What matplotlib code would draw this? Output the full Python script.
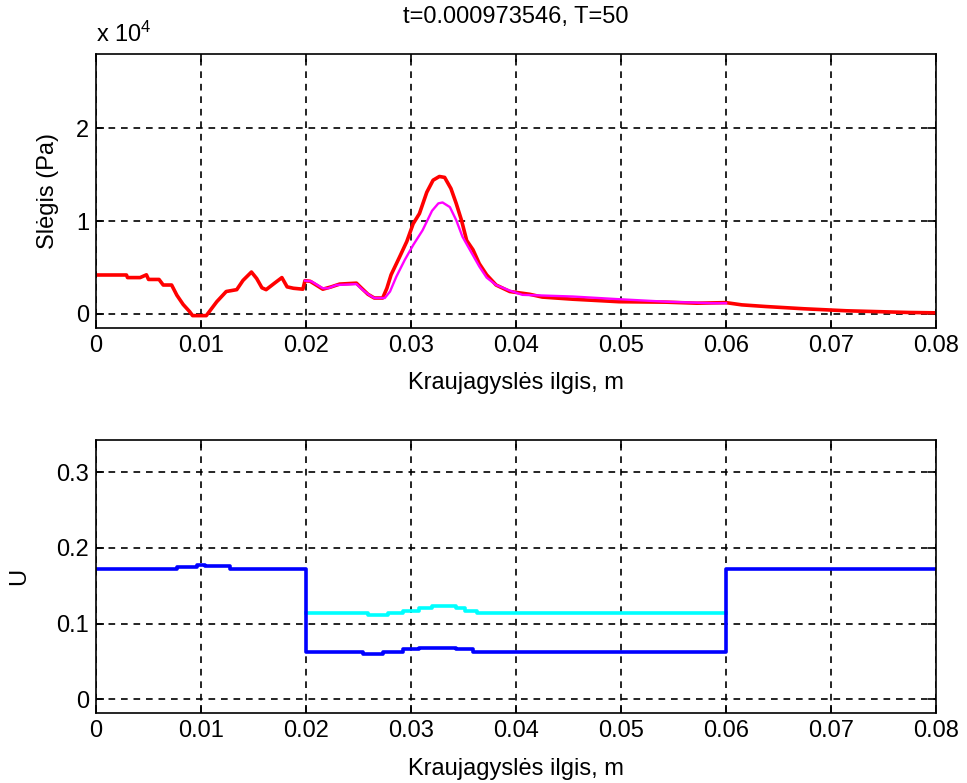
import matplotlib
matplotlib.use("Agg")
import matplotlib.pyplot as plt

plt.rcParams['font.family'] = ['Liberation Sans', 'DejaVu Sans']
plt.rcParams['mathtext.default'] = 'regular'
plt.rcParams['font.size'] = 17

# upper panel: pressure along the vessel, units of 1e4 Pa
red_x = [0, 0.0029, 0.003, 0.0042, 0.0048, 0.005, 0.006, 0.0064, 0.0072, 0.0077,
         0.0083, 0.0089, 0.0092, 0.0105, 0.0108, 0.0115, 0.0124, 0.0134, 0.014,
         0.0148, 0.0153, 0.0158, 0.0162, 0.017, 0.0177, 0.0182, 0.0188, 0.0197,
         0.0199, 0.0204, 0.0216, 0.0224, 0.0232, 0.0248, 0.0253, 0.0259, 0.0265,
         0.0273, 0.0277, 0.0281, 0.0289, 0.0296, 0.0302, 0.0308, 0.0315, 0.0321,
         0.0327, 0.0332, 0.0338, 0.0343, 0.0348, 0.0353, 0.0359, 0.0365, 0.0372,
         0.0381, 0.0394, 0.0413, 0.0425, 0.0454, 0.0498, 0.0543, 0.0572, 0.06,
         0.0615, 0.0638, 0.0674, 0.0715, 0.0774, 0.08]
red_y = [0.418, 0.418, 0.39, 0.39, 0.42, 0.37, 0.37, 0.31, 0.31, 0.20,
         0.10, 0.025, -0.02, -0.02, 0.025, 0.13, 0.24, 0.26, 0.36,
         0.45, 0.38, 0.28, 0.26, 0.33, 0.39, 0.29, 0.275, 0.265,
         0.357, 0.35, 0.265, 0.29, 0.32, 0.33, 0.275, 0.21, 0.17,
         0.17, 0.275, 0.42, 0.61, 0.78, 0.97, 1.08, 1.31, 1.44,
         1.48, 1.47, 1.35, 1.19, 1.01, 0.79, 0.69, 0.54, 0.42,
         0.31, 0.24, 0.21, 0.18, 0.157, 0.13, 0.125, 0.114, 0.12,
         0.096, 0.078, 0.054, 0.032, 0.014, 0.01]

mag_x = [0.0199, 0.0205, 0.0216, 0.0221, 0.0229, 0.0248, 0.0254, 0.026, 0.0265,
         0.0275, 0.028, 0.0286, 0.0294, 0.0302, 0.0311, 0.032, 0.0326, 0.033,
         0.0337, 0.0343, 0.0349, 0.0358, 0.0365, 0.0372, 0.0381, 0.0394, 0.0406,
         0.0454, 0.0498, 0.0543, 0.0587, 0.06]
mag_y = [0.357, 0.35, 0.275, 0.275, 0.31, 0.32, 0.257, 0.204, 0.17,
         0.17, 0.24, 0.40, 0.58, 0.74, 0.90, 1.11, 1.19, 1.20,
         1.15, 1.01, 0.83, 0.65, 0.51, 0.39, 0.31, 0.25, 0.204,
         0.186, 0.157, 0.13, 0.114, 0.114]

# lower panel: U (step data)
blue_x = [0, 0.0077, 0.0096, 0.0104, 0.0128, 0.02, 0.0254, 0.0273, 0.0292,
          0.0308, 0.0343, 0.0359, 0.06, 0.08]
blue_y = [0.1717, 0.175, 0.178, 0.176, 0.1717, 0.063, 0.0594, 0.063, 0.066,
          0.068, 0.066, 0.063, 0.1717, 0.1717]

cyan_x = [0.02, 0.0259, 0.0278, 0.0292, 0.0308, 0.032, 0.0343, 0.0351, 0.0363, 0.06]
cyan_y = [0.1144, 0.111, 0.1144, 0.1166, 0.12, 0.123, 0.12, 0.1166, 0.1136, 0.1136]

xticks = [0, 0.01, 0.02, 0.03, 0.04, 0.05, 0.06, 0.07, 0.08]
xtick_labels = ['0', '0.01', '0.02', '0.03', '0.04', '0.05', '0.06', '0.07', '0.08']


def style_axes(ax):
    ax.set_xlim(0, 0.08)
    ax.set_xticks(xticks)
    ax.set_xticklabels(xtick_labels)
    ax.grid(True, color='black', linestyle=(0, (4, 3.5)), linewidth=1.2)
    ax.tick_params(direction='in', length=6, width=1.2, top=True, right=True, pad=5)
    for s in ax.spines.values():
        s.set_linewidth(1.2)
    ax.set_xlabel('Kraujagyslės ilgis, m', labelpad=11)


fig = plt.figure(figsize=(9.67, 7.83), dpi=100)
ax1 = fig.add_axes([0.0993, 0.5815, 0.8687, 0.3495])
ax2 = fig.add_axes([0.0993, 0.089, 0.8687, 0.349])

ax1.plot(red_x, red_y, color='#ff0000', linewidth=2.6)
ax1.plot(mag_x, mag_y, color='#ff00ff', linewidth=1.7)
ax1.set_ylim(-0.15, 2.8)
ax1.set_yticks([0, 1, 2])
style_axes(ax1)
ax1.set_ylabel('Slėgis (Pa)', labelpad=12)
ax1.set_title('t=0.000973546, T=50', fontsize=17, pad=22)
ax1.text(0, 1.044, r'x 10$^{4}$', transform=ax1.transAxes, ha='left', va='baseline', fontsize=17)

ax2.plot(cyan_x, cyan_y, color='#00ffff', linewidth=2.6, drawstyle='steps-post')
ax2.plot(blue_x, blue_y, color='#0000ff', linewidth=2.6, drawstyle='steps-post')
ax2.set_ylim(-0.0185, 0.3425)
ax2.set_yticks([0, 0.1, 0.2, 0.3])
ax2.set_yticklabels(['0', '0.1', '0.2', '0.3'])
style_axes(ax2)
ax2.set_ylabel('U', labelpad=19)

fig.savefig('out.png', dpi=100)
